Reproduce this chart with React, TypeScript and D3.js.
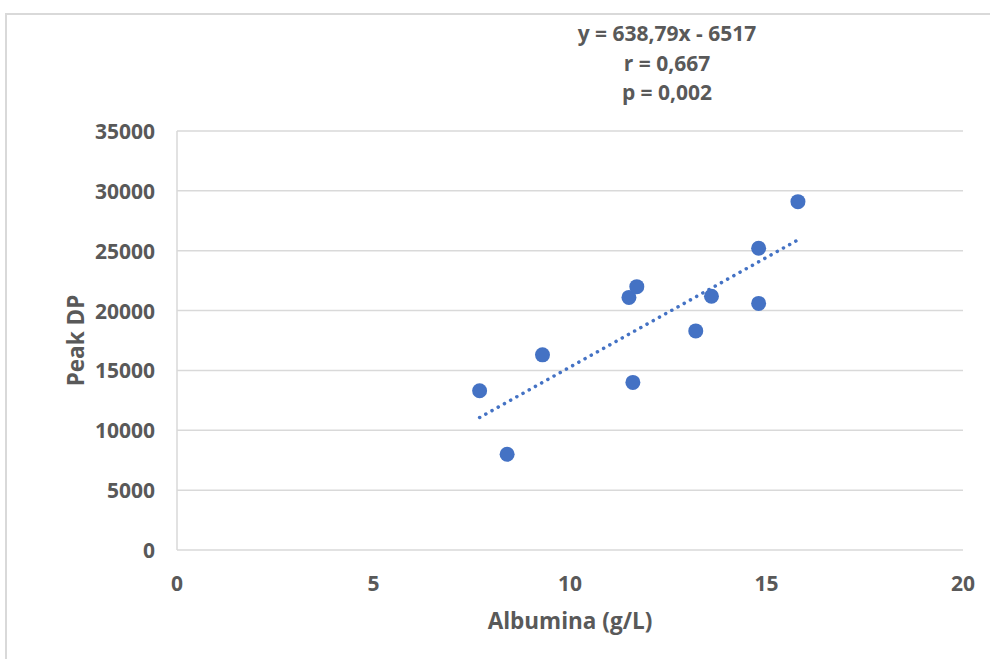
import React from "react";
import * as d3 from "d3";

// albumina (g/L) vs peak DP
const albumina = [7.7, 8.4, 9.3, 11.5, 11.7, 11.6, 13.2, 13.6, 14.8, 14.8, 15.8];
const peakDP = [13300, 8000, 16300, 21100, 22000, 14000, 18300, 21200, 25200, 20600, 29100];
const xTicks = [0, 5, 10, 15, 20];
const yTicks = [0, 5000, 10000, 15000, 20000, 25000, 30000, 35000];
const annotation = ["y = 638,79x - 6517", "r = 0,667", "p = 0,002"];

const W = 990;
const H = 659;
const font = "'Open Sans', Calibri, sans-serif";
const textColor = "#595959";
const gridColor = "#d9d9d9";
const blue = "#4472C4";

export default function App() {
  const x = d3.scaleLinear().domain([0, 20]).range([177, 963]);
  const y = d3.scaleLinear().domain([0, 35000]).range([550, 131]);

  const pts = albumina.map((a, i) => ({ a, p: peakDP[i] }));

  // least squares trendline over the data range
  const mx = d3.mean(albumina)!;
  const my = d3.mean(peakDP)!;
  const sxy = d3.sum(pts, (d) => (d.a - mx) * (d.p - my));
  const sxx = d3.sum(pts, (d) => (d.a - mx) ** 2);
  const slope = sxy / sxx;
  const icpt = my - slope * mx;
  const [xmin, xmax] = d3.extent(albumina) as [number, number];
  const trend = d3.line<number>().x((v) => x(v)).y((v) => y(slope * v + icpt));

  return (
    <div style={{ position: "absolute", left: 0, top: 0 }}>
      <svg width={W} height={H} style={{ display: "block", background: "#fff" }}>
        <rect x={6} y={14} width={W} height={H} fill="#fff" stroke={gridColor} strokeWidth={2} />

        {yTicks.map((t) => (
          <g key={t}>
            <line x1={x(0)} x2={x(20)} y1={y(t)} y2={y(t)} stroke={gridColor} strokeWidth={1.5} />
            <text
              x={155}
              y={y(t)}
              textAnchor="end"
              dominantBaseline="central"
              fontFamily={font}
              fontWeight="bold"
              fontSize={21}
              fill={textColor}
            >
              {t}
            </text>
          </g>
        ))}
        <line x1={x(0)} x2={x(0)} y1={y(0)} y2={y(35000)} stroke={gridColor} strokeWidth={1.5} />

        {xTicks.map((t) => (
          <text
            key={t}
            x={x(t)}
            y={583}
            textAnchor="middle"
            dominantBaseline="central"
            fontFamily={font}
            fontWeight="bold"
            fontSize={21}
            fill={textColor}
          >
            {t}
          </text>
        ))}

        <path
          d={trend([xmin, xmax]) ?? ""}
          fill="none"
          stroke={blue}
          strokeWidth={3.5}
          strokeLinecap="round"
          strokeDasharray="0.1 7"
        />

        {pts.map((d, i) => (
          <circle key={i} cx={x(d.a)} cy={y(d.p)} r={7.5} fill={blue} />
        ))}

        <text
          x={(x(0) + x(20)) / 2}
          y={620}
          textAnchor="middle"
          dominantBaseline="central"
          fontFamily={font}
          fontWeight="bold"
          fontSize={22.5}
          fill={textColor}
        >
          Albumina (g/L)
        </text>
        <text
          transform={`translate(75, ${(y(0) + y(35000)) / 2}) rotate(-90)`}
          textAnchor="middle"
          dominantBaseline="central"
          fontFamily={font}
          fontWeight="bold"
          fontSize={22.5}
          fill={textColor}
        >
          Peak DP
        </text>

        {annotation.map((s, i) => (
          <text
            key={s}
            x={667}
            y={33 + i * 29.5}
            textAnchor="middle"
            dominantBaseline="central"
            fontFamily={font}
            fontWeight="bold"
            fontSize={21}
            fill={textColor}
          >
            {s}
          </text>
        ))}
      </svg>
    </div>
  );
}
